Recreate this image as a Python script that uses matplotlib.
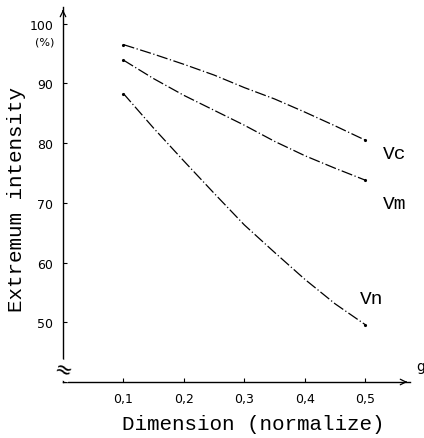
import matplotlib
matplotlib.use("Agg")
import matplotlib.pyplot as plt

# valores
dim = [0.1, 0.15, 0.2, 0.25, 0.3, 0.35, 0.4, 0.45, 0.5]
vc = [96.5, 94.9, 93.2, 91.4, 89.3, 87.4, 85.2, 82.9, 80.5]
vm = [93.9, 90.8, 88.0, 85.5, 83.0, 80.3, 77.9, 75.8, 73.8]
vn = [88.3, 82.5, 77.0, 71.6, 66.3, 61.7, 57.2, 53.1, 49.6]
xticks = [0.1, 0.2, 0.3, 0.4, 0.5]
xlabels = ["0,1", "0,2", "0,3", "0,4", "0,5"]
yticks = [50, 60, 70, 80, 90, 100]

mono = "Liberation Mono"
ls = (0, (9, 2, 1, 2))

fig = plt.figure(figsize=(4.24, 4.39), dpi=100)
ax = fig.add_axes([63 / 424, 56 / 439, (410 - 63) / 424, (383 - 8) / 439])

for serie, nombre, pos in [(vc, "Vc", (0.549, 78.3)),
                           (vm, "Vm", (0.549, 69.9)),
                           (vn, "Vn", (0.511, 54.0))]:
    ax.plot(dim, serie, color="k", lw=0.9, ls=ls,
            marker=".", markersize=2.5, markevery=[0, len(dim) - 1])
    ax.text(pos[0], pos[1], nombre, family=mono, fontsize=14,
            ha="center", va="center")

ax.set_xlim(0, 0.574)
ax.set_ylim(40, 102.8)
ax.spines["top"].set_visible(False)
ax.spines["right"].set_visible(False)
ax.spines["left"].set_linewidth(1.0)
ax.spines["bottom"].set_linewidth(1.0)

ax.set_xticks(xticks)
ax.set_xticklabels(xlabels)
ax.set_yticks(yticks)
ax.tick_params(direction="in", length=3, width=0.8, labelsize=9, pad=7)

# flechas de los ejes
ax.annotate("", xy=(1.0, 0), xytext=(0.98, 0), xycoords="axes fraction",
            arrowprops=dict(arrowstyle="->", lw=0.9, color="k"))
ax.annotate("", xy=(0, 1.0), xytext=(0, 0.98), xycoords="axes fraction",
            arrowprops=dict(arrowstyle="->", lw=0.9, color="k"))

ax.text(0.591, 42.6, "g", fontsize=10, ha="center", va="center", clip_on=False)
ax.text(-0.014, 97.0, "(%)", fontsize=8, ha="right", va="center")
ax.text(0, 42.0, "≈", fontsize=15, ha="center", va="center", rotation=-20,
        bbox=dict(fc="white", ec="none", pad=0), clip_on=False)

# etiquetas de los ejes
fig.text(253 / 424, 1 - 425 / 439, "Dimension (normalize)", family=mono,
         fontsize=15, ha="center", va="center")
fig.text(17 / 424, 1 - 200 / 439, "Extremum intensity", family=mono,
         fontsize=15, ha="center", va="center", rotation=90)

fig.savefig("out.png", dpi=100)
